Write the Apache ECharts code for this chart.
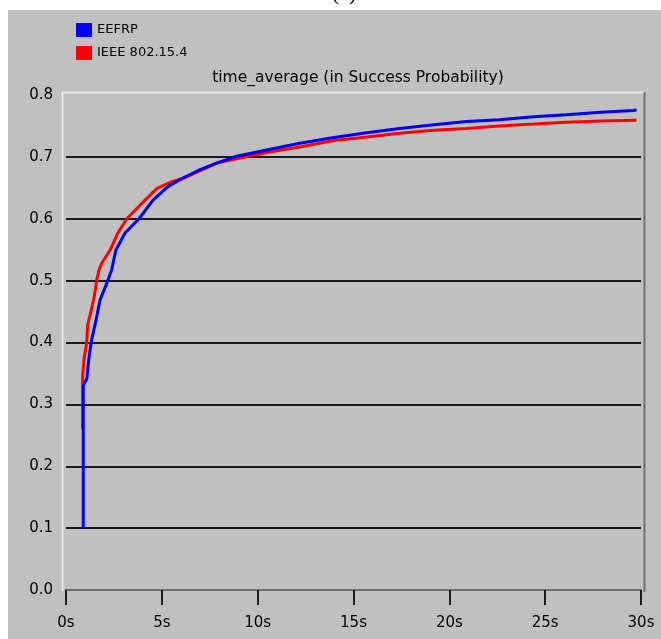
<!DOCTYPE html>
<html>
<head>
<meta charset="utf-8">
<script src="https://cdn.jsdelivr.net/npm/echarts@6/dist/echarts.min.js"></script>
<style>
  html, body { margin: 0; padding: 0; background: #fff; }
  #main { width: 661px; height: 639px; }
</style>
</head>
<body>
<div id="main"></div>
<script>
// values (time in s, success probability)
var eefrpTime = [0.9, 0.9, 0.97, 1.08, 1.2, 1.31, 1.51, 1.77, 2.18, 2.38, 2.6, 3.08, 3.81, 4.54, 5.32, 6.05, 6.89, 7.86, 8.9, 10.47, 12.2, 13.9, 15.7, 17.4, 19.2, 20.9, 22.6, 24.4, 26.1, 27.9, 29.6, 29.77];
var eefrpVal = [0.10, 0.33, 0.335, 0.34, 0.375, 0.40, 0.428, 0.468, 0.50, 0.517, 0.549, 0.577, 0.60, 0.63, 0.652, 0.665, 0.678, 0.690, 0.701, 0.711, 0.722, 0.731, 0.739, 0.746, 0.752, 0.757, 0.760, 0.765, 0.768, 0.772, 0.775, 0.776];

var ieeeTime = [0.87, 0.87, 0.95, 1.08, 1.13, 1.3, 1.45, 1.6, 1.72, 1.86, 2.3, 2.71, 3.17, 4.12, 4.75, 5.53, 6.1, 7.86, 8.9, 10.47, 12.2, 13.9, 15.7, 17.4, 19.2, 20.9, 22.6, 24.4, 26.1, 27.9, 29.77];
var ieeeVal = [0.26, 0.347, 0.375, 0.40, 0.428, 0.45, 0.47, 0.50, 0.517, 0.528, 0.549, 0.577, 0.60, 0.63, 0.649, 0.66, 0.665, 0.69, 0.697, 0.707, 0.716, 0.726, 0.732, 0.738, 0.743, 0.746, 0.750, 0.753, 0.756, 0.758, 0.759];

// horizontal grid lines (not at 0.0 / 0.8)
var gridVals = [0.1, 0.2, 0.3, 0.4, 0.5, 0.6, 0.7];

function pairs(xs, ys) {
  return xs.map(function (x, i) { return [x, ys[i]]; });
}

var chart = echarts.init(document.getElementById('main'));

var font = 'DejaVu Sans';

var option = {
  animation: false,
  backgroundColor: '#fff',
  graphic: [
    // "(c)" cut at the top
    { type: 'text', left: 332, top: -17, z: 0,
      style: { text: '(c)', font: '22px "Liberation Serif"', fill: '#000' } },
    // grey panel
    { type: 'rect', shape: { x: 8, y: 10, width: 653, height: 629 }, z: -10,
      style: { fill: '#c0c0c0' } },
    // frame of the plot
    { type: 'line', shape: { x1: 62.5, y1: 92, x2: 62.5, y2: 591 }, z: 10,
      style: { stroke: '#f2f2f2', lineWidth: 1.5 } },
    { type: 'line', shape: { x1: 62, y1: 92.5, x2: 644, y2: 92.5 }, z: 10,
      style: { stroke: '#e4e4e4', lineWidth: 2 } },
    { type: 'line', shape: { x1: 644.5, y1: 92, x2: 644.5, y2: 592 }, z: 10,
      style: { stroke: '#707070', lineWidth: 2 } }
  ],
  title: {
    text: 'time_average (in Success Probability)',
    left: 353, top: 65, textAlign: 'center',
    textStyle: { fontFamily: font, fontSize: 15.5, fontWeight: 'normal', color: '#000' }
  },
  legend: {
    orient: 'vertical',
    left: 71, top: 18,
    itemWidth: 16, itemHeight: 14, itemGap: 9,
    icon: 'rect',
    data: ['EEFRP', 'IEEE 802.15.4'],
    textStyle: { fontFamily: font, fontSize: 13, color: '#000' }
  },
  grid: { left: 66, right: 20, top: 95, bottom: 49 },
  xAxis: {
    type: 'value',
    min: 0, max: 30, interval: 5,
    axisLine: { show: true, onZero: false, lineStyle: { color: '#6e6e6e', width: 2 } },
    axisTick: { show: true, length: 15, lineStyle: { color: '#1a1a1a', width: 2 } },
    axisLabel: { margin: 26, formatter: '{value}s', fontFamily: font, fontSize: 15, color: '#000' },
    splitLine: { show: false }
  },
  yAxis: {
    type: 'value',
    min: 0, max: 0.8, interval: 0.1,
    axisLine: { show: false },
    axisTick: { show: false },
    axisLabel: {
      margin: 13, fontFamily: font, fontSize: 15, color: '#000',
      formatter: function (v) { return v.toFixed(1); }
    },
    splitLine: { show: false }
  },
  series: [
    {
      name: 'EEFRP',
      type: 'line',
      z: 4,
      showSymbol: false,
      data: pairs(eefrpTime, eefrpVal),
      color: '#0000ff',
      lineStyle: { color: '#0000ff', width: 3 }
    },
    {
      name: 'IEEE 802.15.4',
      type: 'line',
      z: 3,
      showSymbol: false,
      data: pairs(ieeeTime, ieeeVal),
      color: '#ff0000',
      lineStyle: { color: '#ff0000', width: 3 },
      markLine: {
        silent: true,
        symbol: 'none',
        z: 1,
        label: { show: false },
        lineStyle: { color: '#1a1a1a', width: 2, type: 'solid' },
        data: gridVals.map(function (v) { return { yAxis: v }; })
      }
    }
  ]
};

chart.setOption(option);
</script>
</body>
</html>
